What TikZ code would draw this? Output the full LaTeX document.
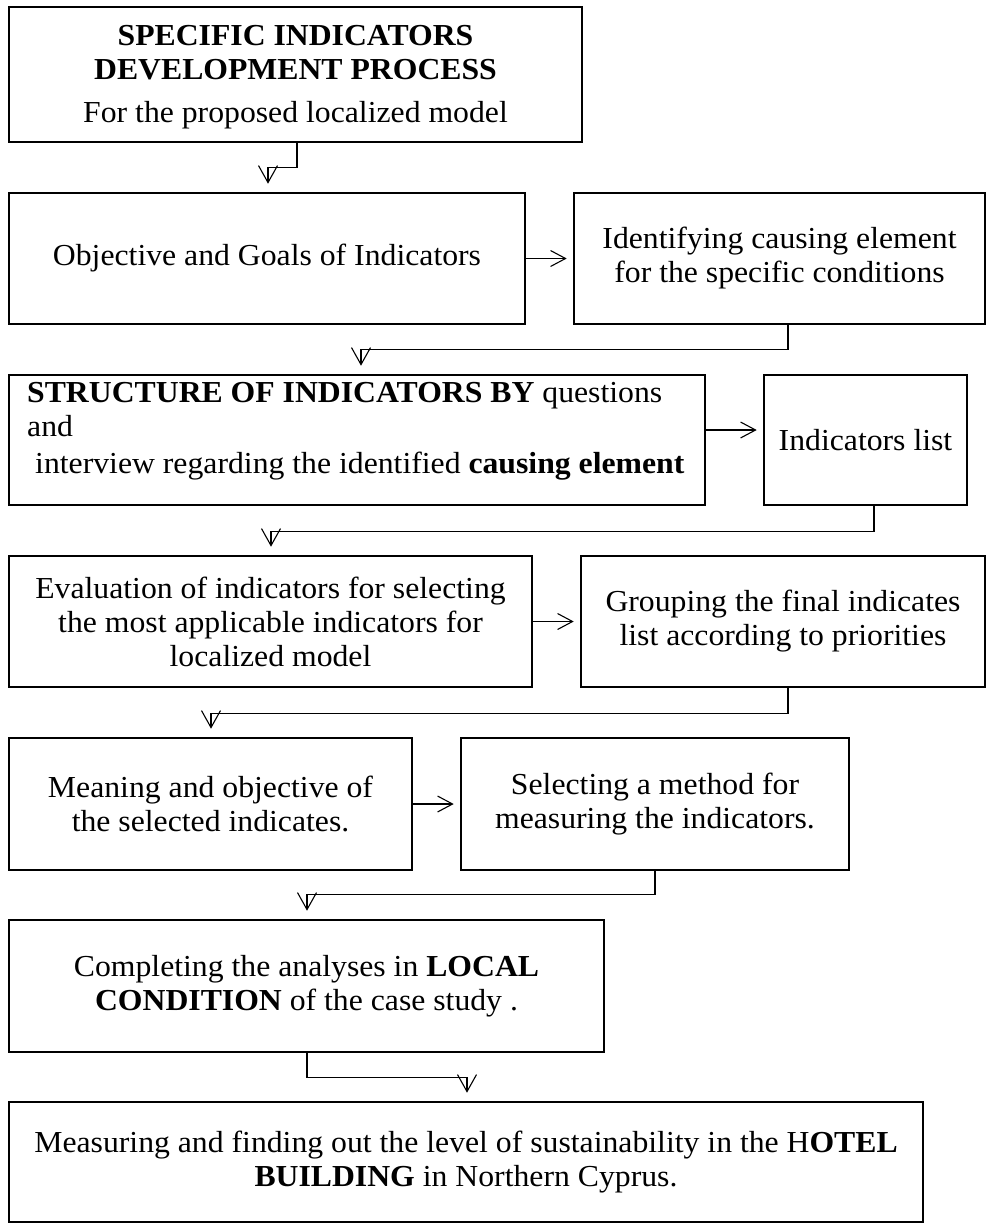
\documentclass[tikz,border=0pt]{standalone}
\usepackage{fontspec}
\setmainfont[FakeStretch=1.04]{Liberation Serif}
\usetikzlibrary{arrows.meta}
\begin{document}
\begin{tikzpicture}[x=1pt,y=-1pt,
  box/.style={draw=black,line width=2.6pt,inner sep=0pt,align=center,
    font=\fontsize{30.5}{34}\selectfont},
  txt/.style={inner sep=0pt,font=\fontsize{30.5}{34}\selectfont},
  link/.style={line width=1.1pt,shorten >=8pt,
    -{Straight Barb[length=17pt,width=19pt,line width=1.1pt]}},
  harrow/.style={line width=1.1pt,shorten >=6pt,
    -{Straight Barb[length=15pt,width=16pt,line width=1.1pt]}}]
\useasboundingbox (0,0) rectangle (990,1227);

% process boxes
\node[box,minimum width=573pt,minimum height=135pt] (b1) at (295.5,74.5) {};
\node[txt,align=center] (b1t) at (295.5,77)
  {\bfseries SPECIFIC INDICATORS\\\bfseries DEVELOPMENT PROCESS\\[9pt]For the proposed localized model};
\node[box,minimum width=516pt,minimum height=131pt] (b2) at (267,258.5)
  {Objective and Goals of Indicators};
\node[box,minimum width=411pt,minimum height=131pt] (b3) at (779.5,258.5)
  {Identifying causing element\\for the specific conditions};
\node[box,minimum width=696pt,minimum height=130pt] (b4) at (357,440) {};
\node[txt,anchor=west,align=left] (b4t) at (27,431)
  {\textbf{STRUCTURE OF INDICATORS BY} questions\\and\\[3pt]\hspace*{8pt}interview regarding the identified \textbf{causing element}};
\node[box,minimum width=203pt,minimum height=130pt] (b5) at (865.5,440)
  {Indicators list};
\node[box,minimum width=523pt,minimum height=131pt] (b6) at (270.5,621.5)
  {Evaluation of indicators for selecting\\the most applicable indicators for\\localized model};
\node[box,minimum width=404pt,minimum height=131pt] (b7) at (783,621.5)
  {Grouping the final indicates\\list according to priorities};
\node[box,minimum width=403pt,minimum height=132pt] (b8) at (210.5,804)
  {Meaning and objective of\\the selected indicates.};
\node[box,minimum width=388pt,minimum height=132pt] (b9) at (655,804)
  {Selecting a method for\\measuring the indicators.};
\node[box,minimum width=595pt,minimum height=132pt] (b10) at (306.5,986)
  {Completing the analyses in \textbf{LOCAL}\\\textbf{CONDITION} of the case study .};
\node[box,minimum width=914pt,minimum height=120pt] (b11) at (466,1162)
  {Measuring and finding out the level of sustainability in the H\textbf{OTEL}\\\textbf{BUILDING} in Northern Cyprus.};

% side arrows
\draw[harrow] (b2.east) -- (b2.east -| b3.west);
\draw[harrow] ([yshift=10pt]b4.east) -- ([yshift=10pt]b4.east -| b5.west);
\draw[harrow] (b6.east) -- (b6.east -| b7.west);
\draw[harrow] (b8.east) -- (b8.east -| b9.west);

% elbow links down to the next row
\draw[link] ([xshift=1.5pt]b1.south) -- ++(0,24) -| ([xshift=1pt]b2.north);
\draw[link] ([xshift=8.5pt]b3.south) -- ++(0,24) -| ([xshift=4pt]b4.north);
\draw[link] ([xshift=8.5pt]b5.south) -- ++(0,25) -| ([xshift=0.5pt]b6.north);
\draw[link] ([xshift=5pt]b7.south) -- ++(0,25) -| ([xshift=0.5pt]b8.north);
\draw[link] (b9.south) -- ++(0,23) -| ([xshift=0.5pt]b10.north);
\draw[link] ([xshift=0.5pt]b10.south) -- ++(0,24) -| ([xshift=1pt]b11.north);
\end{tikzpicture}
\end{document}
